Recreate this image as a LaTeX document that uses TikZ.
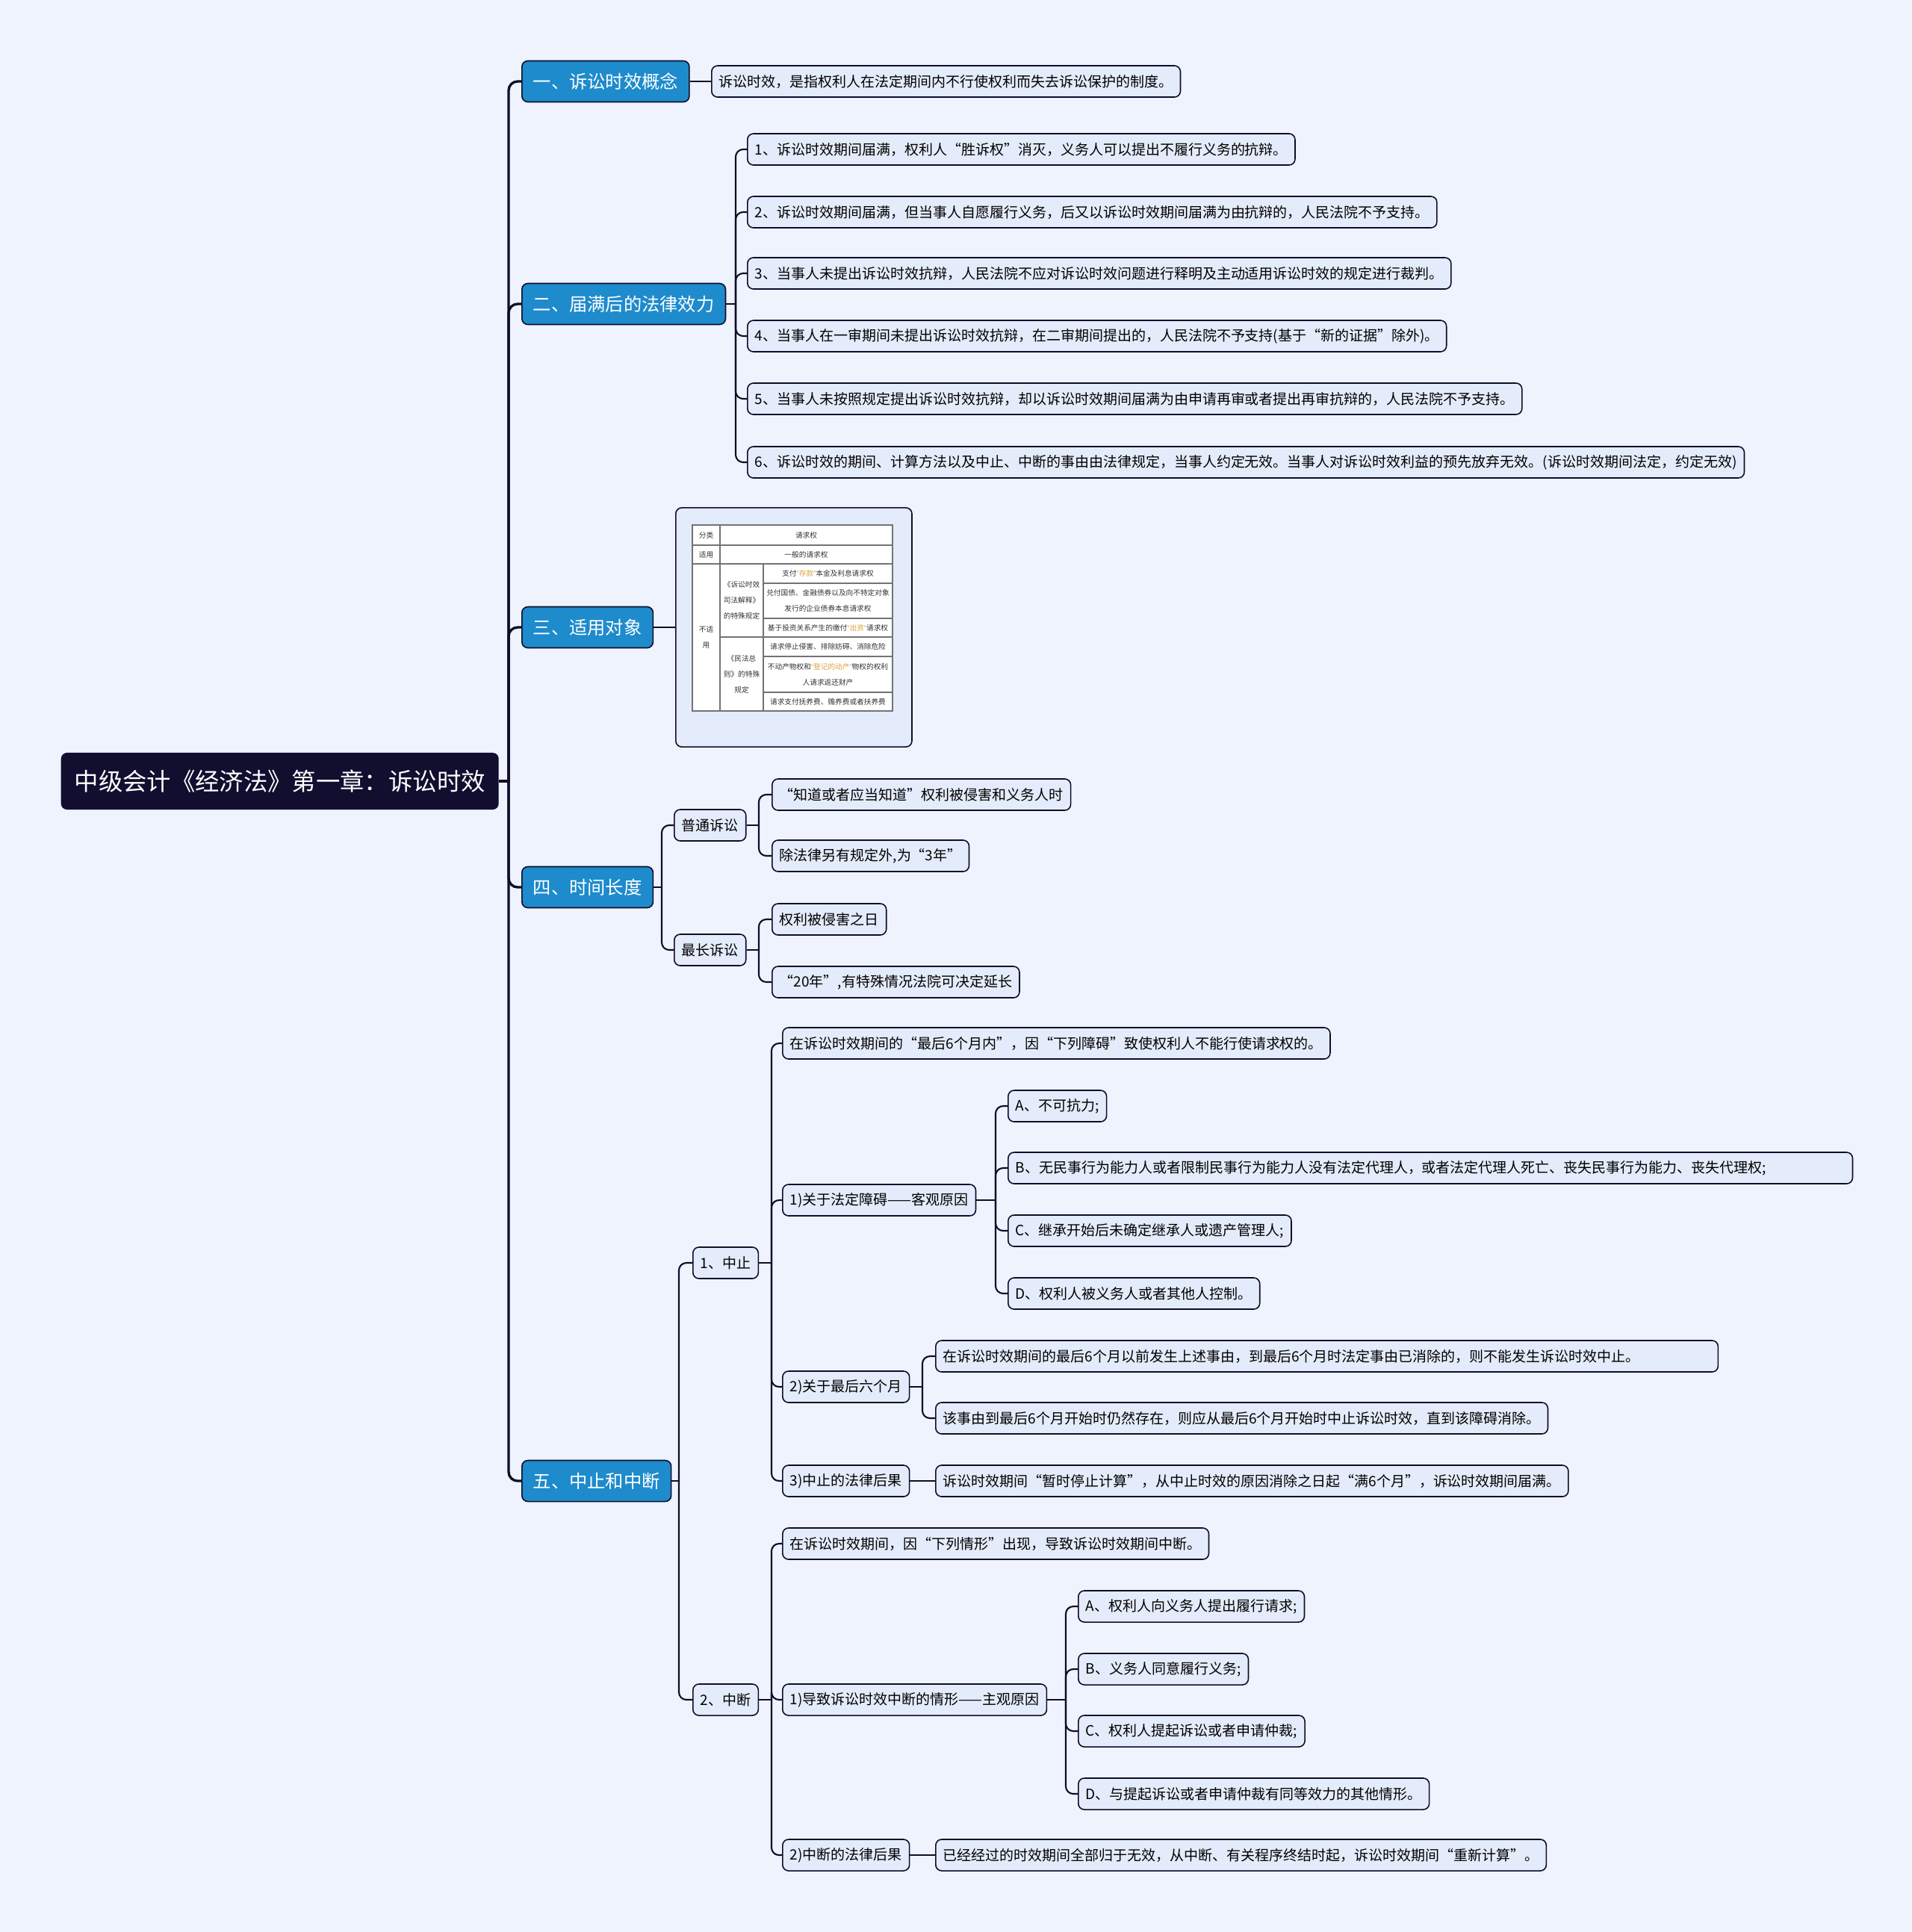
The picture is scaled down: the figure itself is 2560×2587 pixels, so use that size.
\documentclass[tikz,border=0pt]{standalone}
\usepackage{fontspec}
\setmainfont{Noto Sans CJK SC}
\newfontfamily\qfont{Liberation Sans}
\newcommand{\qo}{{\qfont “}}
\newcommand{\qc}{{\qfont ”}}
\definecolor{bgc}{HTML}{EEF3FD}
\definecolor{leafc}{HTML}{E4EBFA}
\definecolor{bluec}{HTML}{1E8BCC}
\definecolor{rootc}{HTML}{110E30}
\definecolor{linec}{HTML}{0F0C2A}
\definecolor{goldc}{HTML}{E0A040}

\begin{document}
\begin{tikzpicture}[x=0.01cm, y=-0.01cm,
                    leaf/.style={draw=linec, line width=0.45pt, fill=leafc, rounded corners=0.08cm, anchor=west, inner xsep=0.1cm, inner ysep=0pt, minimum height=0.42cm, font=\fontsize{5.4}{6}\selectfont},
                    sec/.style={draw=linec, line width=0.45pt, fill=bluec, text=white, rounded corners=0.08cm, anchor=west, inner xsep=0.15cm, inner ysep=0pt, minimum height=0.55cm, font=\fontsize{6.9}{8}\selectfont},
                    rootbox/.style={fill=rootc, text=white, rounded corners=0.08cm, anchor=west, inner xsep=0.18cm, inner ysep=0pt, minimum height=0.76cm, font=\fontsize{9.2}{11}\selectfont},
                    link/.style={draw=linec, line width=0.6pt, rounded corners=0.1cm},
                    mainlink/.style={draw=linec, line width=0.95pt, rounded corners=0.12cm},
                    tline/.style={draw=black!55, line width=0.3pt},
                    cell/.style={font=\fontsize{2.75}{6}\selectfont, align=center, inner sep=0pt, text=black!80}]
                    \useasboundingbox (0,0) rectangle (2560,2587);
                    \fill[bgc] (0,0) rectangle (2560,2587);

                    \node[rootbox] (root) at (81,1046) {中级会计《经济法》第一章：诉讼时效};

                    \node[sec] (s1) at (698,109) {一、诉讼时效概念};
                    \node[sec] (s2) at (698,407) {二、届满后的法律效力};
                    \node[sec] (s3) at (698,840) {三、适用对象};
                    \node[sec] (s4) at (698,1188) {四、时间长度};
                    \node[sec] (s5) at (698,1983) {五、中止和中断};

                    \coordinate (r0) at (681,1046);
                    \draw[mainlink] (root.east) -- (r0);
                    \foreach \n in {s1,s2,s3,s4,s5}
                        \draw[mainlink] (r0) |- (\n.west);

                    \node[leaf] (c1) at (952,109) {诉讼时效，是指权利人在法定期间内不行使权利而失去诉讼保护的制度。};
                    \draw[link] (s1.east) -- (c1.west);

                    \node[leaf] (e1) at (1000,200) {1、诉讼时效期间届满，权利人“胜诉权”消灭，义务人可以提出不履行义务的抗辩。};
                    \node[leaf] (e2) at (1000,284) {2、诉讼时效期间届满，但当事人自愿履行义务，后又以诉讼时效期间届满为由抗辩的，人民法院不予支持。};
                    \node[leaf] (e3) at (1000,366) {3、当事人未提出诉讼时效抗辩，人民法院不应对诉讼时效问题进行释明及主动适用诉讼时效的规定进行裁判。};
                    \node[leaf] (e4) at (1000,450) {4、当事人在一审期间未提出诉讼时效抗辩，在二审期间提出的，人民法院不予支持(基于“新的证据”除外)。};
                    \node[leaf] (e5) at (1000,534) {5、当事人未按照规定提出诉讼时效抗辩，却以诉讼时效期间届满为由申请再审或者提出再审抗辩的，人民法院不予支持。};
                    \node[leaf] (e6) at (1000,619) {6、诉讼时效的期间、计算方法以及中止、中断的事由由法律规定，当事人约定无效。当事人对诉讼时效利益的预先放弃无效。(诉讼时效期间法定，约定无效)};
                    \coordinate (j2) at (985,407);
                    \draw[link] (s2.east) -- (j2);
                    \foreach \n in {e1,e2,e3,e4,e5,e6}
                        \draw[link] (j2) |- (\n.west);

                    \node[draw=linec, line width=0.45pt, fill=leafc, rounded corners=0.08cm, minimum width=3.16cm, minimum height=3.2cm, anchor=west] (tbl) at (904,840) {};
                    \draw[link] (s3.east) -- (tbl.west);
                    \fill[white] (927,703) rectangle (1195,952);
                    \draw[tline] (927,703) rectangle (1195,952);
                    \draw[tline] (927,730) -- (1195,730);
                    \draw[tline] (927,755) -- (1195,755);
                    \draw[tline] (964,853) -- (1195,853);
                    \draw[tline] (1022,781) -- (1195,781);
                    \draw[tline] (1022,828) -- (1195,828);
                    \draw[tline] (1022,879) -- (1195,879);
                    \draw[tline] (1022,927) -- (1195,927);
                    \draw[tline] (964,703) -- (964,952);
                    \draw[tline] (1022,755) -- (1022,952);
                    \node[cell] (k1) at (945.5,716.5) {分类};
                    \node[cell] (k2) at (1079.5,716.5) {请求权};
                    \node[cell] (k3) at (945.5,742.5) {适用};
                    \node[cell] (k4) at (1079.5,742.5) {一般的请求权};
                    \node[cell] (k5) at (945.5,853.5) {不适\\用};
                    \node[cell] (k6) at (993,804) {《诉讼时效\\司法解释》\\的特殊规定};
                    \node[cell] (k7) at (993,902.5) {《民法总\\则》的特殊\\规定};
                    \node[cell] (k8) at (1108.5,768) {支付\textcolor{goldc}{\qo 存款\qc}本金及利息请求权};
                    \node[cell] (k9) at (1108.5,804.5) {兑付国债、金融债券以及向不特定对象\\发行的企业债券本息请求权};
                    \node[cell] (k10) at (1108.5,840.5) {基于投资关系产生的缴付\textcolor{goldc}{\qo 出资\qc}请求权};
                    \node[cell] (k11) at (1108.5,866) {请求停止侵害、排除妨碍、消除危险};
                    \node[cell] (k12) at (1108.5,903) {不动产物权和\textcolor{goldc}{\qo 登记的动产\qc}物权的权利\\人请求返还财产};
                    \node[cell] (k13) at (1108.5,939.5) {请求支付抚养费、赡养费或者扶养费};

                    \node[leaf] (p1) at (902,1105) {普通诉讼};
                    \node[leaf] (p2) at (902,1272) {最长诉讼};
                    \coordinate (j4) at (886,1188);
                    \draw[link] (s4.east) -- (j4);
                    \foreach \n in {p1,p2}
                        \draw[link] (j4) |- (\n.west);
                    \node[leaf] (p11) at (1033,1064) {“知道或者应当知道”权利被侵害和义务人时};
                    \node[leaf] (p12) at (1033,1146) {除法律另有规定外,为“3年”};
                    \node[leaf] (p21) at (1033,1231) {权利被侵害之日};
                    \node[leaf] (p22) at (1033,1315) {“20年”,有特殊情况法院可决定延长};
                    \coordinate (jp1) at (1016,1105);
                    \coordinate (jp2) at (1016,1272);
                    \draw[link] (p1.east) -- (jp1);
                    \draw[link] (p2.east) -- (jp2);
                    \foreach \n in {p11,p12}
                        \draw[link] (jp1) |- (\n.west);
                    \foreach \n in {p21,p22}
                        \draw[link] (jp2) |- (\n.west);

                    \node[leaf] (z1) at (927,1691) {1、中止};
                    \node[leaf] (z2) at (927,2276) {2、中断};
                    \coordinate (j5) at (909,1983);
                    \draw[link] (s5.east) -- (j5);
                    \foreach \n in {z1,z2}
                        \draw[link] (j5) |- (\n.west);

                    \node[leaf] (za0) at (1047,1397) {在诉讼时效期间的“最后6个月内”，因“下列障碍”致使权利人不能行使请求权的。};
                    \node[leaf] (za1) at (1047,1607) {1)关于法定障碍——客观原因};
                    \node[leaf] (za2) at (1047,1857) {2)关于最后六个月};
                    \node[leaf] (za3) at (1047,1983) {3)中止的法律后果};
                    \coordinate (jz1) at (1033,1691);
                    \draw[link] (z1.east) -- (jz1);
                    \foreach \n in {za0,za1,za2,za3}
                        \draw[link] (jz1) |- (\n.west);

                    \node[leaf] (zaa) at (1349,1481) {A、不可抗力;};
                    \node[leaf, minimum width=11.3cm, align=left, text width=11.1cm] (zab) at (1349,1564) {B、无民事行为能力人或者限制民事行为能力人没有法定代理人，或者法定代理人死亡、丧失民事行为能力、丧失代理权;};
                    \node[leaf] (zac) at (1349,1648) {C、继承开始后未确定继承人或遗产管理人;};
                    \node[leaf] (zad) at (1349,1732) {D、权利人被义务人或者其他人控制。};
                    \coordinate (jza1) at (1333,1607);
                    \draw[link] (za1.east) -- (jza1);
                    \foreach \n in {zaa,zab,zac,zad}
                        \draw[link] (jza1) |- (\n.west);

                    \node[leaf, align=left, text width=10.27cm] (zb1) at (1252,1816) {在诉讼时效期间的最后6个月以前发生上述事由，到最后6个月时法定事由已消除的，则不能发生诉讼时效中止。};
                    \node[leaf] (zb2) at (1252,1899) {该事由到最后6个月开始时仍然存在，则应从最后6个月开始时中止诉讼时效，直到该障碍消除。};
                    \coordinate (jza2) at (1235,1857);
                    \draw[link] (za2.east) -- (jza2);
                    \foreach \n in {zb1,zb2}
                        \draw[link] (jza2) |- (\n.west);

                    \node[leaf] (zc1) at (1252,1983) {诉讼时效期间“暂时停止计算”，从中止时效的原因消除之日起“满6个月”，诉讼时效期间届满。};
                    \draw[link] (za3.east) -- (zc1.west);

                    \node[leaf] (zd0) at (1047,2067) {在诉讼时效期间，因“下列情形”出现，导致诉讼时效期间中断。};
                    \node[leaf] (zd1) at (1047,2276) {1)导致诉讼时效中断的情形——主观原因};
                    \node[leaf] (zd2) at (1047,2484) {2)中断的法律后果};
                    \coordinate (jz2) at (1033,2276);
                    \draw[link] (z2.east) -- (jz2);
                    \foreach \n in {zd0,zd1,zd2}
                        \draw[link] (jz2) |- (\n.west);

                    \node[leaf] (zda) at (1443,2151) {A、权利人向义务人提出履行请求;};
                    \node[leaf] (zdb) at (1443,2235) {B、义务人同意履行义务;};
                    \node[leaf] (zdc) at (1443,2318) {C、权利人提起诉讼或者申请仲裁;};
                    \node[leaf] (zdd) at (1443,2402) {D、与提起诉讼或者申请仲裁有同等效力的其他情形。};
                    \coordinate (jzd1) at (1427,2276);
                    \draw[link] (zd1.east) -- (jzd1);
                    \foreach \n in {zda,zdb,zdc,zdd}
                        \draw[link] (jzd1) |- (\n.west);

                    \node[leaf] (ze1) at (1252,2484) {已经经过的时效期间全部归于无效，从中断、有关程序终结时起，诉讼时效期间“重新计算”。};
                    \draw[link] (zd2.east) -- (ze1.west);
                \end{tikzpicture}
\end{document}
